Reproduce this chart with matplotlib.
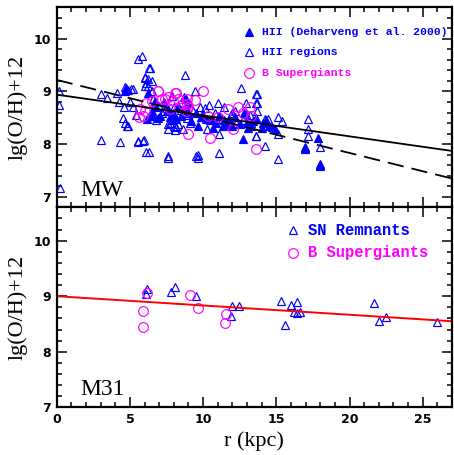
import matplotlib
matplotlib.use("Agg")
import matplotlib.pyplot as plt
from matplotlib.ticker import MultipleLocator

# ---------------- data: Milky Way (top panel) ----------------
mw_hii_open_r = [0.18, 0.18, 0.22, 3.0, 3.45, 3.0, 4.1, 4.3, 4.5, 4.77, 4.27, 4.59, 5.2, 5.2,
                 5.56, 5.97, 6.13, 6.3, 5.56, 5.86, 6.3, 6.0, 6.13, 6.0, 5.0, 6.0, 6.25,
                 4.66, 5.1, 6.25, 6.5, 7.6, 8.06, 8.3, 7.6, 8.06, 5.56, 5.9, 7.6, 9.54,
                 4.66, 4.9, 8.75, 9.43, 12.56, 11.02, 13.63, 13.63, 12.95, 7.61,
                 9.65, 9.65, 11.08, 7.72, 8.63, 8.13, 11.08, 13.63, 10.27, 12.27, 6.36,
                 6.5, 13.67, 13.67, 13.67, 13.6, 14.2, 14.4, 15.1, 15.4, 15.1, 14.2, 15.1,
                 13.59, 17.15, 17.15, 17.15, 16.93, 16.93, 18.0, 18.0, 18.0, 7.0, 7.3,
                 8.0, 8.5, 9.0, 9.3, 9.8, 10.5, 10.8, 11.4, 11.9, 12.2, 12.7, 13.2, 5.4,
                 6.8, 7.9, 8.9, 10.1, 11.3, 12.0, 12.9, 6.6, 7.2, 9.1, 10.4, 11.6, 13.3]
mw_hii_open_oh = [9.01, 8.75, 7.17, 8.95, 8.87, 8.08, 8.98, 8.05, 8.49, 8.34, 8.80, 8.71, 9.04, 8.71,
                  8.05, 8.08, 7.86, 7.86, 9.61, 9.67, 9.45, 9.28, 9.17, 9.10, 8.80, 9.26, 9.23,
                  9.08, 9.04, 9.10, 9.00, 8.38, 8.35, 8.38, 8.28, 8.27, 8.06, 8.06, 7.78, 7.78,
                  8.40, 8.35, 9.31, 9.01, 9.06, 8.79, 8.95, 8.79, 8.79, 7.73,
                  7.79, 7.73, 7.83, 8.41, 8.29, 8.32, 8.19, 8.16, 8.29, 8.41, 9.45,
                  9.20, 8.95, 8.79, 8.63, 8.48, 8.48, 8.47, 8.51, 8.44, 8.19, 7.97, 7.72,
                  8.16, 8.48, 8.29, 8.16, 7.94, 7.90, 7.94, 7.62, 7.58, 8.72, 8.62,
                  8.70, 8.65, 8.55, 8.62, 8.70, 8.45, 8.60, 8.70, 8.55, 8.62, 8.45, 8.55, 8.55,
                  8.45, 8.92, 8.50, 8.68, 8.48, 8.60, 8.58, 8.85, 8.60, 8.40, 8.75, 8.38, 8.40]

mw_hii_deh_r = [4.72, 4.9, 4.65, 6.6, 6.25, 6.5, 6.9, 6.2, 6.36, 7.04, 7.5, 8.18, 8.5, 8.86,
                8.97, 9.2, 9.88, 10.2, 10.9, 11.1, 11.36, 11.6, 11.8, 12.72, 13.0, 13.4,
                13.63, 12.8, 7.72, 7.95, 9.65, 14.1, 14.5, 14.7, 14.9, 14.0, 17.83, 16.93,
                18.0, 13.3, 6.8, 7.3, 7.6, 8.0, 8.3, 8.7, 9.0, 9.5, 10.0, 10.6, 11.4, 12.2,
                12.5, 13.1, 14.3, 6.7, 7.9, 8.8, 10.7, 12.0]
mw_hii_deh_oh = [9.06, 9.03, 9.00, 8.54, 8.98, 8.63, 8.50, 8.48, 8.56, 8.54, 8.63, 8.48, 8.54, 8.85,
                 8.60, 8.44, 8.51, 8.48, 8.41, 8.54, 8.35, 8.38, 8.47, 8.10, 8.41, 8.44,
                 8.50, 8.60, 8.51, 8.60, 8.35, 8.41, 8.35, 8.32, 8.29, 8.30, 8.11, 7.92,
                 7.60, 8.35, 8.70, 8.80, 8.66, 8.55, 8.72, 8.90, 8.78, 8.60, 8.55, 8.48, 8.45,
                 8.52, 8.38, 8.30, 8.45, 8.82, 8.45, 8.68, 8.30, 8.35]

mw_bsg_r = [13.59, 8.97, 10.45, 6.93, 8.18, 9.99, 7.38, 7.95, 9.43, 8.89, 8.9, 8.97, 8.63,
            11.7, 12.38, 13.18, 13.29, 12.04, 10.34, 7.72, 6.5, 5.63, 6.02, 6.1, 6.9, 7.16,
            7.6, 8.3, 8.86, 5.68, 5.9, 8.06, 11.0, 12.7]
mw_bsg_oh = [7.91, 8.20, 8.11, 9.01, 8.98, 9.01, 8.85, 8.82, 8.84, 8.85, 8.76, 8.70, 8.76,
             8.66, 8.70, 8.70, 8.54, 8.29, 8.54, 8.66, 8.82, 8.51, 8.63, 8.78, 9.00, 8.85,
             8.89, 8.85, 8.63, 8.66, 8.54, 8.98, 8.52, 8.60]

mw_fit1 = (8.94, -0.0396)   # solid line: intercept, slope
mw_fit2 = (9.22, -0.0694)   # dashed line

# ---------------- data: M31 (bottom panel) ----------------
m31_snr_r = [6.07, 6.2, 7.79, 8.11, 9.5, 11.95, 12.47, 11.9, 15.3, 15.58, 15.99, 16.38,
             16.22, 16.38, 16.65, 21.65, 22.0, 22.5, 26.0]
m31_snr_oh = [9.04, 9.13, 9.08, 9.16, 9.00, 8.82, 8.82, 8.64, 8.92, 8.49, 8.85, 8.90,
              8.72, 8.69, 8.71, 8.87, 8.55, 8.63, 8.54]
m31_bsg_r = [5.9, 5.9, 6.18, 9.13, 9.68, 11.54, 11.47]
m31_bsg_oh = [8.74, 8.44, 9.06, 9.03, 8.78, 8.68, 8.52]
m31_fit = (9.00, -0.0167)

xmax = 27.0
blue = (0, 0, 1)
mag = (1, 0, 1)
TRI = 5.6
CIR = 7.0
MEW = 0.85

fig = plt.figure(figsize=(4.54, 4.55), dpi=100)
ax1 = fig.add_axes([0.1249, 0.5444, 0.8707, 0.4396])
ax2 = fig.add_axes([0.1249, 0.1048, 0.8707, 0.4396])

serif = "Liberation Serif"
legfont = dict(family="Liberation Mono", weight="bold")

for ax in (ax1, ax2):
    ax.set_xlim(0, xmax)
    ax.xaxis.set_major_locator(MultipleLocator(5))
    ax.xaxis.set_minor_locator(MultipleLocator(1))
    ax.yaxis.set_major_locator(MultipleLocator(1))
    ax.yaxis.set_minor_locator(MultipleLocator(0.2))
    ax.tick_params(which="both", direction="in", top=True, right=True, width=1.1)
    ax.tick_params(which="major", length=7)
    ax.tick_params(which="minor", length=3.5)
    for s in ax.spines.values():
        s.set_linewidth(1.6)
    ax.tick_params(labelsize=9, pad=4)
    ax.set_ylabel("lg(O/H)+12", fontsize=16, family=serif, labelpad=4)

ax1.set_ylim(6.8, 10.6)
ax2.set_ylim(7.0, 10.6)
ax1.tick_params(labelbottom=False)
ax1.set_yticks([7, 8, 9, 10])
ax2.set_yticks([7, 8, 9, 10])
ax2.set_xticks([0, 5, 10, 15, 20, 25])
for lab in ax1.get_yticklabels() + ax2.get_yticklabels() + ax2.get_xticklabels():
    lab.set_fontweight("bold")
    lab.set_family("DejaVu Sans")

# top panel
xs = [0, xmax]
ax1.plot(mw_hii_open_r, mw_hii_open_oh, ls="none", marker="^", ms=TRI, mfc="none",
         mec=blue, mew=MEW)
ax1.plot(mw_hii_deh_r, mw_hii_deh_oh, ls="none", marker="^", ms=TRI + 0.4, mfc=blue,
         mec=blue, mew=MEW)
ax1.plot(mw_bsg_r, mw_bsg_oh, ls="none", marker="o", ms=CIR, mfc="none", mec=mag, mew=MEW)
ax1.plot(xs, [mw_fit1[0] + mw_fit1[1] * x for x in xs], color="black", lw=1.3)
ax1.plot(xs, [mw_fit2[0] + mw_fit2[1] * x for x in xs], color="black", lw=1.3,
         dashes=(9, 4.5))
ax1.text(0.06, 0.055, "MW", transform=ax1.transAxes, fontsize=17, family=serif)

# top legend
leg1 = [("^", blue, blue, "HII (Deharveng et al. 2000)", 0.877),
        ("^", "none", blue, "HII regions", 0.775),
        ("o", "none", mag, "B Supergiants", 0.670)]
for mk, fc, ec, txt, yy in leg1:
    ax1.plot([0.486], [yy], transform=ax1.transAxes, marker=mk,
             ms=TRI if mk == "^" else CIR, mfc=fc, mec=ec, mew=MEW, ls="none")
    ax1.text(0.520, yy, txt, transform=ax1.transAxes, color=ec, fontsize=8.2,
             va="center", **legfont)

# bottom panel
ax2.plot(m31_snr_r, m31_snr_oh, ls="none", marker="^", ms=TRI, mfc="none", mec=blue, mew=MEW)
ax2.plot(m31_bsg_r, m31_bsg_oh, ls="none", marker="o", ms=CIR, mfc="none", mec=mag, mew=MEW)
ax2.plot(xs, [m31_fit[0] + m31_fit[1] * x for x in xs], color=(1, 0, 0), lw=1.4)
ax2.text(0.06, 0.06, "M31", transform=ax2.transAxes, fontsize=17, family=serif)

leg2 = [("^", blue, "SN Remnants", 0.886), ("o", mag, "B Supergiants", 0.772)]
for mk, ec, txt, yy in leg2:
    ax2.plot([0.598], [yy], transform=ax2.transAxes, marker=mk,
             ms=TRI if mk == "^" else CIR, mfc="none", mec=ec, mew=MEW, ls="none")
    ax2.text(0.635, yy, txt, transform=ax2.transAxes, color=ec, fontsize=11.2,
             va="center", **legfont)

ax2.set_xlabel("r (kpc)", fontsize=16, family=serif, labelpad=4)

fig.savefig("out.png", dpi=100)
